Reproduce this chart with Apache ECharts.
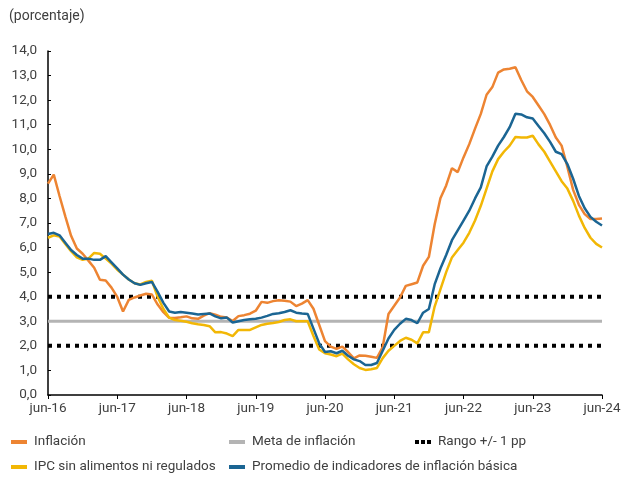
<!DOCTYPE html>
<html>
<head>
<meta charset="utf-8">
<script src="https://cdn.jsdelivr.net/npm/echarts@6/dist/echarts.min.js"></script>
<style>
  html, body { margin: 0; padding: 0; background: #fff; }
  #chart { width: 637px; height: 481px; }
</style>
</head>
<body>
<div id="chart"></div>
<script>
// meses jun-16 .. jun-24
var mesesAbrev = ['ene', 'feb', 'mar', 'abr', 'may', 'jun', 'jul', 'ago', 'sep', 'oct', 'nov', 'dic'];
var categorias = [];
for (var a = 16; a <= 24; a++) {
  for (var m = 0; m < 12; m++) {
    if (a === 16 && m < 5) continue;
    if (a === 24 && m > 5) continue;
    categorias.push(mesesAbrev[m] + '-' + a);
  }
}

var inflacion = [
  8.60, 8.97, 8.10, 7.27, 6.48, 5.96, 5.75,
  5.47, 5.18, 4.69, 4.66, 4.37, 3.99, 3.40, 3.87, 3.97, 4.05, 4.12, 4.09,
  3.68, 3.37, 3.14, 3.13, 3.16, 3.20, 3.12, 3.10, 3.23, 3.33, 3.27, 3.18,
  3.15, 3.01, 3.21, 3.25, 3.31, 3.43, 3.79, 3.75, 3.82, 3.86, 3.84, 3.80,
  3.62, 3.72, 3.86, 3.51, 2.85, 2.19, 1.97, 1.88, 1.97, 1.75, 1.49, 1.61,
  1.60, 1.56, 1.51, 1.95, 3.30, 3.63, 3.97, 4.44, 4.51, 4.58, 5.26, 5.62,
  6.94, 8.01, 8.53, 9.23, 9.07, 9.67, 10.21, 10.84, 11.44, 12.22, 12.53, 13.12,
  13.25, 13.28, 13.34, 12.82, 12.36, 12.13, 11.78, 11.43, 10.99, 10.48, 10.15, 9.28,
  8.35, 7.74, 7.36, 7.16, 7.16, 7.18
];

var ipcSinAlimentos = [
  6.40, 6.50, 6.45, 6.15, 5.85, 5.60, 5.50,
  5.55, 5.78, 5.75, 5.55, 5.35, 5.10, 4.90, 4.70, 4.55, 4.50, 4.60, 4.65,
  4.00, 3.50, 3.15, 3.05, 3.02, 2.98, 2.92, 2.88, 2.85, 2.80, 2.55, 2.56,
  2.50, 2.40, 2.65, 2.65, 2.65, 2.75, 2.85, 2.90, 2.93, 2.97, 3.05, 3.08,
  3.00, 3.00, 3.00, 2.40, 1.85, 1.70, 1.65, 1.58, 1.68, 1.45, 1.25, 1.10,
  1.02, 1.05, 1.10, 1.50, 1.80, 2.00, 2.20, 2.33, 2.25, 2.10, 2.55, 2.55,
  3.60, 4.30, 5.00, 5.60, 5.90, 6.20, 6.60, 7.10, 7.70, 8.40, 9.10, 9.60,
  9.90, 10.15, 10.50, 10.48, 10.48, 10.55, 10.20, 9.90, 9.50, 9.10, 8.70, 8.40,
  7.90, 7.30, 6.80, 6.40, 6.15, 6.00
];

var promedioBasica = [
  6.55, 6.60, 6.50, 6.20, 5.90, 5.70, 5.55,
  5.55, 5.50, 5.50, 5.65, 5.40, 5.15, 4.90, 4.70, 4.55, 4.48, 4.55, 4.60,
  4.20, 3.75, 3.40, 3.35, 3.38, 3.35, 3.32, 3.28, 3.30, 3.32, 3.20, 3.12,
  3.15, 2.95, 3.00, 3.05, 3.08, 3.10, 3.15, 3.22, 3.30, 3.33, 3.38, 3.45,
  3.35, 3.32, 3.30, 2.70, 2.10, 1.75, 1.78, 1.70, 1.80, 1.60, 1.45, 1.38,
  1.22, 1.22, 1.30, 1.80, 2.30, 2.65, 2.90, 3.10, 3.05, 2.92, 3.35, 3.50,
  4.50, 5.15, 5.70, 6.30, 6.70, 7.10, 7.50, 8.00, 8.45, 9.30, 9.70, 10.15,
  10.50, 10.90, 11.45, 11.42, 11.30, 11.25, 10.95, 10.65, 10.30, 9.90, 9.80, 9.40,
  8.80, 8.10, 7.60, 7.25, 7.05, 6.90
];

var META = 3;
var RANGO_SUP = 4;
var RANGO_INF = 2;
var metaInflacion = categorias.map(function () { return META; });
var rangoSup = categorias.map(function () { return RANGO_SUP; });
var rangoInf = categorias.map(function () { return RANGO_INF; });

var fuente = 'Roboto';
var grisTexto = '#404040';
var cNaranja = '#ED8432';
var cAmarillo = '#F2B705';
var cAzul = '#1B6593';
var cGris = '#B4B4B4';

var chart = echarts.init(document.getElementById('chart'));

var iconoLinea = 'path://M0,0h16v4h-16z';
var iconoPuntos = 'path://M0,0h4v4h-4z M6,0h4v4h-4z M12,0h4v4h-4z';

var leyendaBase = {
  orient: 'vertical',
  itemWidth: 16,
  itemHeight: 4,
  itemGap: 11,
  textStyle: { fontFamily: fuente, fontSize: 13.5, color: grisTexto, padding: [0, 0, 0, 2] },
  icon: iconoLinea
};

var option = {
  animation: false,
  title: {
    text: '(porcentaje)',
    left: 4,
    top: 4,
    textStyle: { fontFamily: fuente, fontSize: 14, fontWeight: 'normal', color: grisTexto }
  },
  legend: [
    Object.assign({}, leyendaBase, { left: 6, top: 430, data: ['Inflación', 'IPC sin alimentos ni regulados'] }),
    Object.assign({}, leyendaBase, { left: 224, top: 430, data: ['Meta de inflación', 'Promedio de indicadores de inflación básica'] }),
    Object.assign({}, leyendaBase, { left: 410, top: 430, icon: iconoPuntos, data: ['Rango +/- 1 pp'] })
  ],
  grid: { left: 48, right: 35, top: 51, bottom: 86 },
  xAxis: {
    type: 'category',
    data: categorias,
    boundaryGap: false,
    axisLine: { lineStyle: { color: '#000', width: 1.5 } },
    axisTick: { interval: 11, length: 4, lineStyle: { color: '#000' } },
    axisLabel: {
      interval: 11,
      fontFamily: fuente,
      fontSize: 13.5,
      color: grisTexto,
      margin: 7,
      showMaxLabel: true
    },
    splitLine: { show: false }
  },
  yAxis: {
    type: 'value',
    min: 0,
    max: 14,
    interval: 1,
    axisLine: { show: true, lineStyle: { color: '#000', width: 1.5 } },
    axisTick: { show: true, inside: true, length: 3, lineStyle: { color: '#000' } },
    axisLabel: {
      fontFamily: fuente,
      fontSize: 13.5,
      color: grisTexto,
      margin: 11,
      formatter: function (v) { return v.toFixed(1).replace('.', ','); }
    },
    splitLine: { show: false }
  },
  series: [
    {
      name: 'Meta de inflación', type: 'line', data: metaInflacion, symbol: 'none',
      lineStyle: { color: cGris, width: 3 }, itemStyle: { color: cGris }, z: 1
    },
    {
      name: 'Rango +/- 1 pp', type: 'line', data: rangoSup, symbol: 'none',
      lineStyle: { color: '#000', width: 4, type: [4, 5], cap: 'butt' }, itemStyle: { color: '#000' }, z: 1
    },
    {
      name: 'Rango +/- 1 pp', type: 'line', data: rangoInf, symbol: 'none',
      lineStyle: { color: '#000', width: 4, type: [4, 5], cap: 'butt' }, itemStyle: { color: '#000' }, z: 1
    },
    {
      name: 'Inflación', type: 'line', data: inflacion, symbol: 'none',
      lineStyle: { color: cNaranja, width: 2.5 }, itemStyle: { color: cNaranja }, z: 2
    },
    {
      name: 'IPC sin alimentos ni regulados', type: 'line', data: ipcSinAlimentos, symbol: 'none',
      lineStyle: { color: cAmarillo, width: 2.5 }, itemStyle: { color: cAmarillo }, z: 3
    },
    {
      name: 'Promedio de indicadores de inflación básica', type: 'line', data: promedioBasica, symbol: 'none',
      lineStyle: { color: cAzul, width: 2.5 }, itemStyle: { color: cAzul }, z: 4
    }
  ]
};

chart.setOption(option);
</script>
</body>
</html>
